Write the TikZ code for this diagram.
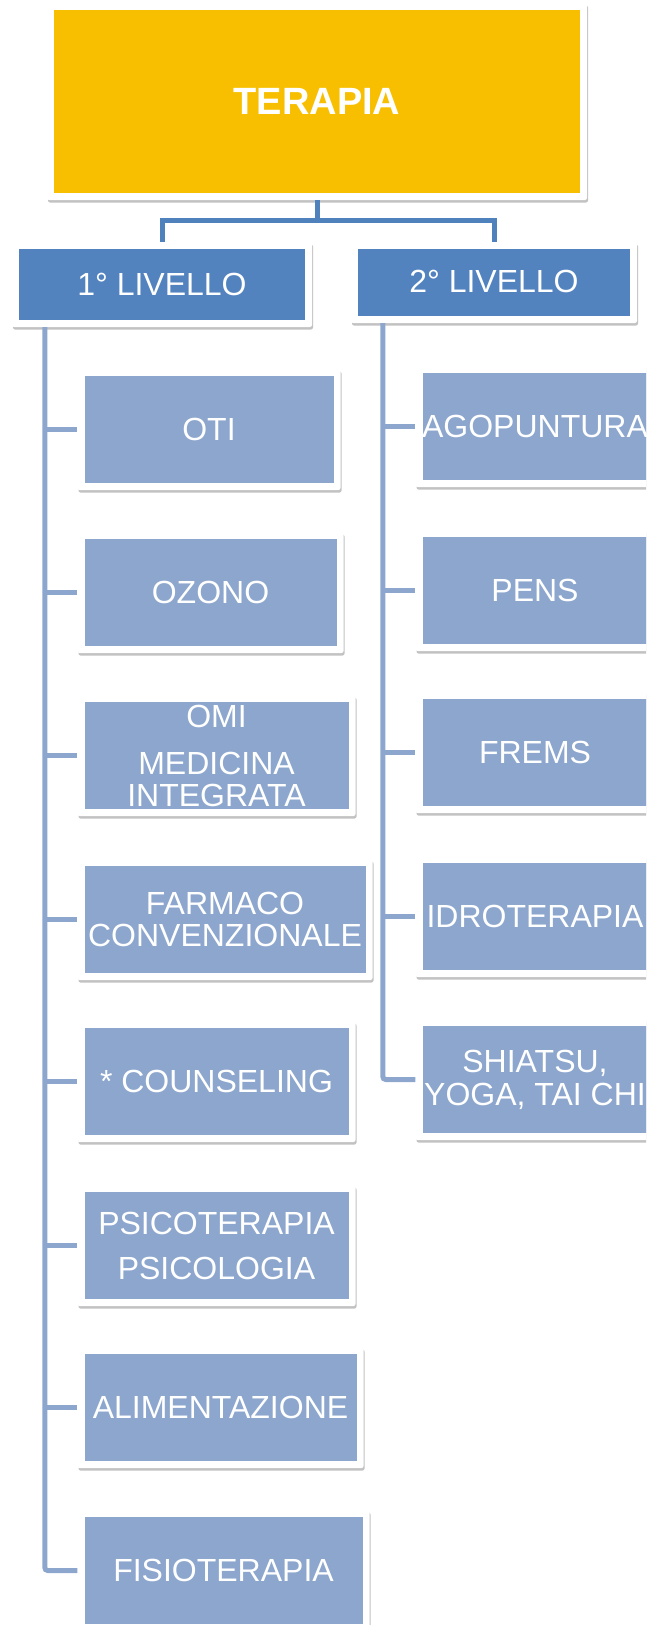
\documentclass[tikz,border=0pt]{standalone}
\usepackage{fontspec}
\setmainfont{Liberation Sans}
\usetikzlibrary{shadows}
\definecolor{topyellow}{HTML}{F8BF00}
\definecolor{lvlblue}{HTML}{5283BF}
\definecolor{itemblue}{HTML}{8CA6CD}
\definecolor{topline}{HTML}{4F81BD}
\definecolor{sideline}{HTML}{8CA6CD}
\tikzset{
  boxbase/.style={rectangle, fill=white, rounded corners=2pt, inner sep=0pt,
    text=white, align=center,
    drop shadow={shadow xshift=1pt, shadow yshift=-2.5pt, opacity=0.4, fill=black!60}},
  inset/.style={path picture={\fill[#1, sharp corners]
      ([shift={(7pt,7pt)}]path picture bounding box.south west) rectangle
      ([shift={(-7pt,-7pt)}]path picture bounding box.north east);}},
  itembox/.style={boxbase, inset=itemblue, minimum height=121pt,
    font=\fontsize{32}{32}\selectfont},
  lvlbox/.style={boxbase, inset=lvlblue, font=\fontsize{32}{32}\selectfont},
  conn/.style={line width=5pt, sideline},
  topconn/.style={line width=5pt, topline},
}
\begin{document}
\begin{tikzpicture}[x=1pt, y=-1pt]
\useasboundingbox (0,0) rectangle (646,1625);
\clip (0,0) rectangle (646,1625);

% root
\node[boxbase, inset=topyellow, minimum width=540pt, minimum height=197pt,
      font=\fontsize{38}{38}\selectfont\bfseries] (ter) at (317,101.5) {TERAPIA};

% level boxes
\node[lvlbox, minimum width=300pt, minimum height=85pt] (l1) at (162,284.5) {1° LIVELLO};
\node[lvlbox, minimum width=286pt, minimum height=81pt] (l2) at (494,282.5) {\raisebox{2pt}{2° LIVELLO}};

% top connectors
\draw[topconn] (ter.south) -- ++(0,20) -| (l1.north);
\draw[topconn] (ter.south) -- ++(0,20) -| (l2.north);

% left column
\node[itembox, minimum width=263pt] (oti)   at (209,429.5)   {OTI};
\node[itembox, minimum width=266pt] (ozono) at (210.5,592.5) {OZONO};
\node[itembox, minimum width=278pt] (omi)   at (216.5,755.5) {OMI\\[15pt]MEDICINA\\INTEGRATA};
\node[itembox, minimum width=295pt] (farm)  at (225,919.5)   {FARMACO\\CONVENZIONALE};
\node[itembox, minimum width=278pt] (couns) at (216.5,1081.5) {* COUNSELING};
\node[itembox, minimum width=278pt] (psico) at (216.5,1245.5) {PSICOTERAPIA\\[13pt]PSICOLOGIA};
\node[itembox, minimum width=286pt] (alim)  at (220.5,1407.5) {ALIMENTAZIONE};
\node[itembox, minimum width=292pt] (fisio) at (223.5,1570.5) {FISIOTERAPIA};

% right column
\node[itembox, minimum width=239pt] (ago)   at (535,426.5)  {AGOPUNTURA};
\node[itembox, minimum width=239pt] (pens)  at (535,590.5)  {PENS};
\node[itembox, minimum width=239pt] (frems) at (535,752.5)  {FREMS};
\node[itembox, minimum width=239pt] (idro)  at (535,916.5)  {IDROTERAPIA};
\node[itembox, minimum width=239pt] (shia)  at (535,1079.5) {SHIATSU,\\[1pt]YOGA, TAI CHI};

% trunks
\coordinate (tr1) at ([xshift=33pt]l1.south west);
\coordinate (tr2) at ([xshift=32pt]l2.south west);
\draw[conn, rounded corners=3pt] (tr1) |- (fisio.west);
\foreach \n in {oti,ozono,omi,farm,couns,psico,alim}
  \draw[conn] (\n.west -| tr1) -- (\n.west);
\draw[conn, rounded corners=3pt] (tr2) |- (shia.west);
\foreach \n in {ago,pens,frems,idro}
  \draw[conn] (\n.west -| tr2) -- (\n.west);
\end{tikzpicture}
\end{document}
